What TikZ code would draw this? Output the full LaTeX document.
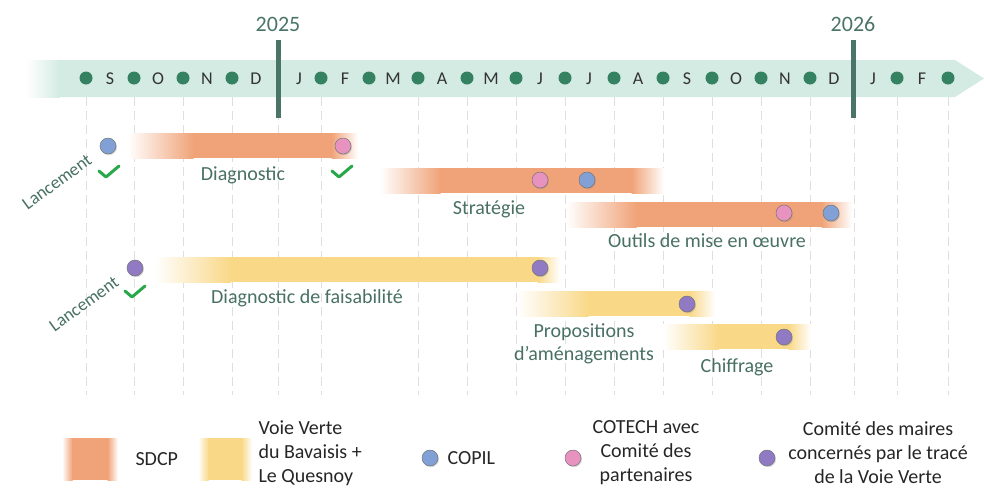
\documentclass[tikz,border=0pt]{standalone}
\usepackage{fontspec}
\setmainfont{Carlito}
\usetikzlibrary{shadows}
\definecolor{bande}{RGB}{212,235,227}
\definecolor{pointvert}{RGB}{52,130,98}
\definecolor{annee}{RGB}{74,116,104}
\definecolor{texteverte}{RGB}{72,112,100}
\definecolor{sdcp}{RGB}{240,163,120}
\definecolor{voie}{RGB}{249,216,136}
\definecolor{copil}{RGB}{128,160,214}
\definecolor{cotech}{RGB}{232,146,192}
\definecolor{maires}{RGB}{144,122,196}
\definecolor{vertcoche}{RGB}{40,168,74}

\begin{document}
\begin{tikzpicture}[x=1pt,y=-1pt]
  \tikzset{
    mois/.style={text=black!80,font=\fontsize{18}{20}\selectfont},
    rond/.style={circle,fill=pointvert,minimum size=13pt,inner sep=0pt},
    an/.style={text=annee,font=\fontsize{22}{24}\selectfont},
    etiq/.style={text=texteverte,font=\fontsize{20}{23}\selectfont,align=center},
    jalon/.style={circle,draw=black!55,line width=0.5pt,minimum size=16pt,inner sep=0pt,
      drop shadow={opacity=0.3,shadow xshift=1pt,shadow yshift=-1.2pt}},
    grille/.style={gray!25,line width=1pt,dash pattern=on 9pt off 5pt},
    legende/.style={text=black!85,font=\fontsize{20}{24}\selectfont},
    coche/.pic={\draw[vertcoche,line width=3pt,line cap=round,line join=round] (-10,-1) -- (-3,5) -- (10,-6);}
  }
  \def\barre#1#2#3#4#5#6#7{%
    \shade[left color=white,right color=#1] (#2,#4) rectangle (#2+#6+0.5,#5);
    \fill[#1] (#2+#6,#4) rectangle (#3-#7,#5);
    \shade[left color=#1,right color=white] (#3-#7-0.5,#4) rectangle (#3,#5);}
  \useasboundingbox (0,0) rectangle (984,488);

  \foreach \x in {86,134,183,232,278,321,418,467,516,565,614,663,712,761,810,854,897,948}
    \draw[grille] (\x,97) -- (\x,395);

  \shade[left color=white,right color=bande] (26,60) rectangle (60,97);
  \fill[bande] (59.5,60) -- (955,60) -- (984,78.5) -- (955,97) -- (59.5,97) -- cycle;
  \foreach \x in {86,134,183,232,321,369,418,467,516,565,614,663,712,761,810,897,948}
    \node[rond] (p\x) at (\x,78) {};
  \foreach \x/\m [count=\i] in {110/S,158/O,207/N,256/D,299/J,345/F,393/M,442/A,491/M,
      540/J,589/J,638/A,687/S,736/O,785/N,834/D,873/J,922/F}
    \node[mois] (m\i) at (\x,79) {\m};
  \fill[annee] (275.5,40) rectangle (280.5,118);
  \fill[annee] (851,40) rectangle (856,118);
  \node[an] (a2025) at (278,24) {2025};
  \node[an] (a2026) at (853,24) {2026};

  \barre{sdcp}{128}{358}{133}{158}{65}{26}
  \barre{sdcp}{380}{664}{168}{193}{60}{32}
  \barre{sdcp}{566}{852}{202}{227}{70}{30}
  \barre{voie}{155}{560}{257}{282}{75}{22}
  \barre{voie}{518}{715}{291}{316}{70}{25}
  \barre{voie}{663}{811}{324}{349}{55}{22}

  \node[jalon,fill=copil] (lanc1) at (108,146) {};
  \node[jalon,fill=cotech] (diag1) at (343,146) {};
  \node[jalon,fill=cotech] (strat1) at (540,180) {};
  \node[jalon,fill=copil] (strat2) at (587,180) {};
  \node[jalon,fill=cotech] (outil1) at (784,213) {};
  \node[jalon,fill=copil] (outil2) at (831,213) {};
  \node[jalon,fill=maires] (lanc2) at (135,268) {};
  \node[jalon,fill=maires] (faisa1) at (540,268) {};
  \node[jalon,fill=maires] (propo1) at (687,304) {};
  \node[jalon,fill=maires] (chiff1) at (784,337) {};
  \pic at (109,172) {coche};
  \pic at (342,172) {coche};
  \pic at (135,292) {coche};

  \node[etiq,rotate=36,font=\fontsize{18}{20}\selectfont] (tlanc1) at (57,182) {Lancement};
  \node[etiq,rotate=36,font=\fontsize{18}{20}\selectfont] (tlanc2) at (84,304) {Lancement};
  \node[etiq] (tdiag) at (243,175) {Diagnostic};
  \node[etiq] (tstrat) at (489,209) {Stratégie};
  \node[etiq] (toutil) at (707,241) {Outils de mise en œuvre};
  \node[etiq] (tfaisa) at (307,298) {Diagnostic de faisabilité};
  \node[etiq] (tpropo) at (584,344) {Propositions\\d’aménagements};
  \node[etiq] (tchiff) at (737,367) {Chiffrage};

  \barre{sdcp}{62}{118}{438}{480}{10}{10}
  \node[legende,anchor=west] (lsdcp) at (132,459) {SDCP};
  \barre{voie}{198}{252}{438}{480}{10}{10}
  \node[legende,anchor=west,align=left] (lvoie) at (255,453) {Voie Verte\\du Bavaisis +\\Le Quesnoy};
  \node[jalon,fill=copil] (lcopil) at (430,458) {};
  \node[legende,anchor=west] (tcopil) at (444,458) {COPIL};
  \node[jalon,fill=cotech] (lcotech) at (573,458) {};
  \node[legende,align=center] (tcotech) at (646,453) {COTECH avec\\Comité des\\partenaires};
  \node[jalon,fill=maires] (lmaires) at (767,458) {};
  \node[legende,align=center] (tmaires) at (878,453) {Comité des maires\\concernés par le tracé\\de la Voie Verte};
\end{tikzpicture}
\end{document}
